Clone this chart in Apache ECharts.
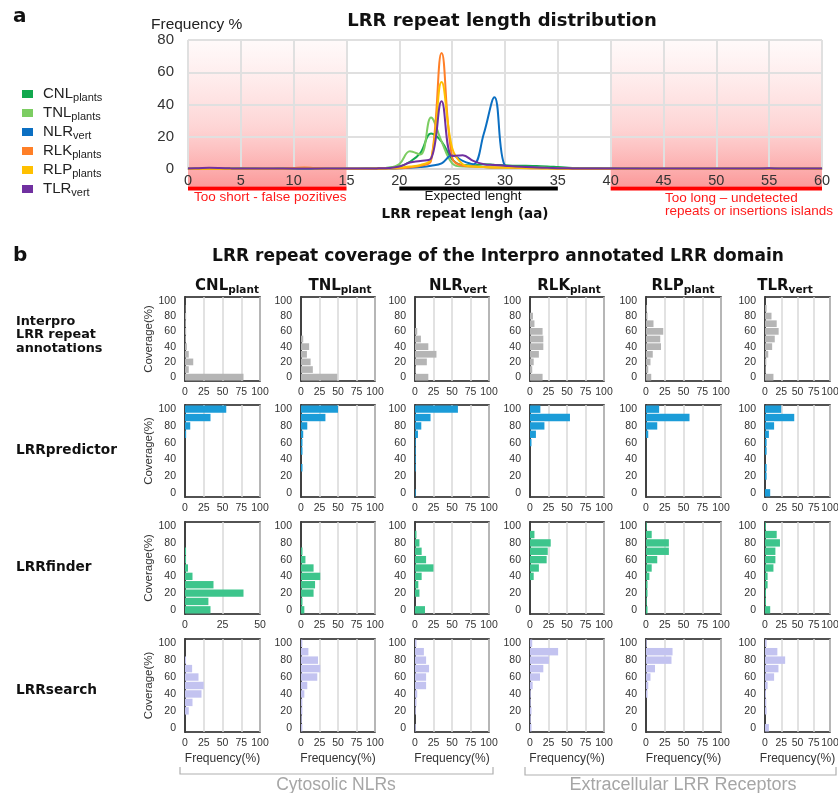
<!DOCTYPE html>
<html><head><meta charset="utf-8">
<script src="https://cdn.jsdelivr.net/npm/echarts@6/dist/echarts.min.js"></script>
<style>html,body{margin:0;padding:0;background:#fff}#c{width:838px;height:793px}</style>
</head><body><div id="c"></div>
<script>
// ---------------- DATA ----------------
// Panel a: repeat length (aa) and frequency (%) per family
const repeatLength = [0,1,2,3,4,5,6,7,8,9,10,11,12,13,14,15,16,17,18,19,20,21,22,23,24,25,26,27,28,29,30,31,32,33,34,35,36,37,38,39,40,41,42,43,44,45,46,47,48,49,50,51,52,53,54,55,56,57,58,59,60];
const cnlCurve = [0.2,0.3,0.3,0.2,0.3,0.4,0.3,0.2,0.2,0.3,0.3,0.3,0.2,0.2,0.2,0.2,0.2,0.3,0.5,0.8,1.5,4.5,10,22,17,6,2.5,2.2,3,2.6,2.3,2,2,1.8,1.6,1.2,0.8,0.6,0.5,0.4,0.3,0.3,0.3,0.2,0.2,0.2,0.2,0.2,0.2,0.2,0.2,0.2,0.2,0.2,0.2,0.2,0.2,0.2,0.2,0.2,0.2];
const tnlCurve = [0.2,0.2,0.2,0.2,0.3,0.3,0.2,0.2,0.2,0.2,0.2,0.2,0.2,0.2,0.2,0.2,0.2,0.2,0.4,0.8,3,11,9,32,17,3.5,1.5,1.5,1.2,1,1,1,1,1,0.8,0.5,0.4,0.3,0.3,0.3,0.2,0.2,0.2,0.2,0.2,0.2,0.2,0.2,0.2,0.2,0.2,0.2,0.2,0.2,0.2,0.2,0.2,0.2,0.2,0.2,0.2];
const nlrCurve = [0.2,0.2,0.2,0.2,0.2,0.2,0.2,0.2,0.2,0.2,0.2,0.2,0.2,0.2,0.2,0.2,0.2,0.2,0.2,0.3,0.5,0.8,1.2,2,3.5,8.5,5,3,22,44.5,2,1,1.2,0.8,0.6,0.5,0.4,0.3,0.3,0.3,0.3,0.2,0.2,0.2,0.2,0.2,0.2,0.2,0.2,0.2,0.2,0.2,0.2,0.2,0.2,0.3,0.2,0.2,0.2,0.2,0.2];
const rlkCurve = [0.2,0.2,0.2,0.2,0.2,0.2,0.2,0.2,0.2,0.2,0.6,1,0.5,0.2,0.2,0.2,0.2,0.2,0.2,0.3,0.5,1,2,5,72,7,2,1.5,1.2,1,1,0.8,0.6,0.5,0.4,0.3,0.2,0.2,0.2,0.2,0.2,0.2,0.2,0.2,0.2,0.2,0.2,0.2,0.2,0.2,0.2,0.2,0.2,0.2,0.2,0.2,0.2,0.2,0.2,0.2,0.2];
const rlpCurve = [0.2,0.2,0.2,0.2,0.2,0.2,0.2,0.2,0.2,0.2,0.3,0.5,0.3,0.2,0.2,0.2,0.2,0.2,0.3,0.5,1,1.5,2.5,6,54,13,3,1.5,1.2,1,0.8,0.7,0.5,0.4,0.3,0.2,0.2,0.2,0.2,0.2,0.2,0.2,0.2,0.2,0.2,0.2,0.2,0.2,0.2,0.2,0.2,0.2,0.2,0.2,0.2,0.2,0.2,0.2,0.2,0.2,0.2];
const tlrCurve = [0.3,0.5,0.7,0.6,0.4,0.3,0.3,0.3,0.3,0.3,0.3,0.3,0.3,0.3,0.3,0.3,0.3,0.3,0.4,0.6,1.5,4,5,6.5,42,8,8.5,5,3,2.5,2,1.5,1.3,1,0.7,0.5,0.4,0.3,0.3,0.3,0.3,0.3,0.3,0.3,0.3,0.3,0.3,0.3,0.3,0.3,0.3,0.3,0.3,0.3,0.3,0.4,0.3,0.3,0.3,0.3,0.3];

const families = ['CNL','TNL','NLR','RLK','RLP','TLR'];
const legendSubs = ['plants','plants','vert','plants','plants','vert'];
const headerSubs = ['plant','plant','vert','plant','plant','vert'];

// Panel b: coverage bins (%) and frequency (%) per bin
const coverageBins = ['0','10','20','30','40','50','60','70','80','90','100'];
const interpro_CNL = [78,5,11,5,2.5,1,1.5,1,1.5,0.5,0];
const interpro_TNL = [49,16,13,8,11,3,0,0,0,0,0];
const interpro_NLR = [18,1,16,29,18,8,3,0,0,0,0];
const interpro_RLK = [17,3,5,12,18,18,17,6,4,0,0];
const interpro_RLP = [7,3,6,9,20,19,23,10,2,1,0];
const interpro_TLR = [13,1,2,5,11,15,21,18,10,2.5,0];

const predictor_CNL = [0,0,0,0,0,0,0,1.5,7,34,55];
const predictor_TNL = [0,0,0,2,0,2,2,3,8.5,33,50];
const predictor_NLR = [1,0,0,1,1,1,1,4,8.5,21,58];
const predictor_RLK = [0,0,0,0,0,0,2,8,19.5,54,14];
const predictor_RLP = [0,0,0,0,0,0,0,3,15,58,17.5];
const predictor_TLR = [8,0,2.5,2.5,0,2.5,2.5,6,14,45,25];

const finder_CNL = [17,15.6,39,19,5,2,0.7,0.7,0,0,0];
const finder_TNL = [4.5,2,17,19,26,17,6,2,0,0,0];
const finder_NLR = [13.5,0,6,4.5,9,25,15,9,6,2,0];
const finder_RLK = [0,0,0,0,5,12,22.5,24,28,6,0];
const finder_RLP = [2,1,2,2,4.5,7.6,15,30.5,30.5,7.6,1];
const finder_TLR = [8,1.5,1.5,4,4,13,16,16,23,18,1.5];

const search_CNL = [0,0,5,10,22,25,18,9.5,1.4,0,0];
const search_TNL = [1.8,1,1.8,1.8,4.5,8.5,22,26,23,10,1.8];
const search_NLR = [1,0,1,2,3,15,15,19,15,12,2];
const search_RLK = [2,1,2,1,1,3.6,13.5,18,25.7,38,3];
const search_RLP = [0,0,0,0,2,3,6,12,34,35.4,1];
const search_TLR = [6,0,2.5,2,1.5,4,14,20.7,31,19,2.5];

const methodNames = ['Interpro\nLRR repeat\nannotations','LRRpredictor','LRRfinder','LRRsearch'];
const methodRows = [
  [interpro_CNL, interpro_TNL, interpro_NLR, interpro_RLK, interpro_RLP, interpro_TLR],
  [predictor_CNL, predictor_TNL, predictor_NLR, predictor_RLK, predictor_RLP, predictor_TLR],
  [finder_CNL, finder_TNL, finder_NLR, finder_RLK, finder_RLP, finder_TLR],
  [search_CNL, search_TNL, search_NLR, search_RLK, search_RLP, search_TLR]
];
const curves = [cnlCurve, tnlCurve, nlrCurve, rlkCurve, rlpCurve, tlrCurve];

// ---------------- STYLE / LAYOUT ----------------
const curveColors = ['#12a84e','#7ccd62','#0b6fc2','#ff7f27','#ffc000','#7030a0'];
const barColors = ['#b5b5b5','#1b9cd8','#3dc58c','#c3c3f0'];
const SANS = 'Liberation Sans, Arial, sans-serif';
const BOLD = 'DejaVu Sans, Verdana, sans-serif';
const colLeft = [185,301,415,530,646,765];
const colW = [75,74,74,74,75,65];
const rowTop = [297,405,522,639];
const rowH = [84,92,92,93];
const headerX = [227,340,458,569,683,785];
const rowLabelY = [335,450,567,690];

const grids = [{left:188, top:40, width:634, height:129, outerBoundsMode:'none', containLabel:false}];
const xAxes = [{
  gridIndex:0, type:'value', min:0, max:60, interval:5,
  axisLine:{show:true, lineStyle:{color:'#d6d6d6', width:2}},
  axisTick:{show:false},
  axisLabel:{fontSize:14.5, color:'#333', margin:4, fontFamily:SANS},
  splitLine:{show:true, lineStyle:{color:'#e0e0e0', width:2}}
}];
const yAxes = [{
  gridIndex:0, type:'value', min:0, max:80, interval:20,
  axisLine:{show:false}, axisTick:{show:false},
  axisLabel:{fontSize:15, color:'#333', margin:14, fontFamily:SANS},
  splitLine:{show:true, lineStyle:{color:'#e0e0e0', width:2}}
}];
const series = [];

families.forEach((f, i) => {
  series.push({
    name:f, type:'line', xAxisIndex:0, yAxisIndex:0,
    data: repeatLength.map((x, k) => [x, curves[i][k]]),
    smooth:0.4, showSymbol:false, symbol:'none',
    lineStyle:{width:2, color:curveColors[i]}, itemStyle:{color:curveColors[i]},
    z:3
  });
});

methodRows.forEach((row, r) => {
  row.forEach((vals, c) => {
    const g = grids.length;
    grids.push({left:colLeft[c], top:rowTop[r], width:colW[c], height:rowH[r],
      show:true, borderColor:'#1a1a1a', borderWidth:1.5, backgroundColor:'transparent',
      outerBoundsMode:'none', containLabel:false});
    const xmax = (r === 2 && c === 0) ? 50 : 100;
    xAxes.push({
      gridIndex:g, type:'value', min:0, max:xmax, interval:25,
      axisLine:{show:false}, axisTick:{show:false},
      axisLabel:{fontSize:10.5, color:'#333', margin:6, fontFamily:SANS},
      splitLine:{show:true, lineStyle:{color:'#d9d9d9', width:1.5}},
      name: r === 3 ? 'Frequency(%)' : '', nameLocation:'middle', nameGap:21,
      nameTextStyle:{fontSize:12, color:'#333', fontFamily:SANS}
    });
    yAxes.push({
      gridIndex:g, type:'category', data:coverageBins,
      axisLine:{show:true, lineStyle:{color:'#1a1a1a', width:1.5}}, axisTick:{show:false},
      axisLabel:{interval:1, fontSize:10.5, color:'#333', margin:9, fontFamily:SANS},
      splitLine:{show:false},
      name: c === 0 ? 'Coverage(%)' : '', nameLocation:'middle', nameRotate:90, nameGap:30,
      nameTextStyle:{fontSize:11.5, color:'#333', fontFamily:'Liberation Sans Narrow, Liberation Sans, sans-serif'}
    });
    series.push({
      type:'bar', xAxisIndex:g, yAxisIndex:g, data:vals,
      barCategoryGap:'12%', itemStyle:{color:barColors[r]}, silent:true
    });
  });
});

const option = {
  animation:false,
  backgroundColor:'#fff',
  textStyle:{fontFamily:SANS},
  grid:grids, xAxis:xAxes, yAxis:yAxes, series:series,
  legend:{
    data:families, orient:'vertical', left:17, top:79.5, itemGap:0,
    itemWidth:11, itemHeight:8, icon:'rect',
    formatter: name => `{a|${name}}{s|${legendSubs[families.indexOf(name)]}}`,
    textStyle:{
      rich:{
        a:{fontSize:15, lineHeight:15, color:'#222', fontFamily:SANS, padding:[0,0,0,5]},
        s:{fontSize:11, lineHeight:7, color:'#222', fontFamily:SANS, padding:[8,0,0,0]}
      }
    }
  }
};

const chart = echarts.init(document.getElementById('c'), null, {width:838, height:793});
chart.setOption(option);

// ---------------- ANNOTATIONS (positioned through the axis scales) ----------------
const P = (x, y) => chart.convertToPixel({gridIndex:0}, [x, y]);
const graphics = [];
const [xa0, yTop] = P(0, 80);
const [, yBase] = P(0, 0);
const barY = yBase + 17.5;
function pinkBand(x1, x2) {
  const a = P(x1, 80)[0], b = P(x2, 80)[0];
  graphics.push({type:'rect', z:-10, silent:true,
    shape:{x:a, y:yTop, width:b - a, height:barY - yTop},
    style:{fill:new echarts.graphic.LinearGradient(0,0,0,1,[
      {offset:0, color:'rgba(255,240,240,0.35)'},
      {offset:0.6, color:'rgba(252,170,170,0.5)'},
      {offset:1, color:'rgba(250,110,110,0.7)'}])}});
  graphics.push({type:'rect', z:10, silent:true,
    shape:{x:a, y:barY, width:b - a, height:4}, style:{fill:'#ff0000'}});
}
pinkBand(0, 15);
pinkBand(40, 60);
{
  const a = P(20, 0)[0], b = P(35, 0)[0];
  graphics.push({type:'rect', z:10, silent:true,
    shape:{x:a, y:barY, width:b - a, height:4}, style:{fill:'#000'}});
}
function txt(text, x, y, size, opts) {
  graphics.push({type:'text', z:20, silent:true, style:Object.assign({
    text, x, y, fontSize:size, fontFamily:SANS, fill:'#111', align:'left', verticalAlign:'middle'
  }, opts || {})});
}
txt('a', 13, 17, 20, {fontFamily:BOLD, fontWeight:'bold'});
txt('LRR repeat length distribution', 502, 21, 18, {fontFamily:BOLD, fontWeight:'bold', align:'center'});
txt('Frequency %', 151, 25, 15.5, {fill:'#222'});
txt('Too short - false pozitives', (P(0,0)[0] + P(15,0)[0]) / 2 + 3, 197, 13.5, {fill:'#ff1a1a', align:'center'});
txt('Expected lenght', 473, 196, 13.5, {fill:'#111', align:'center'});
txt('LRR repeat lengh (aa)', 465, 214, 13.5, {fontFamily:BOLD, fontWeight:'bold', align:'center'});
txt('Too long \u2013 undetected\nrepeats or insertions islands', 665, 205, 13.5, {fill:'#ff1a1a', lineHeight:12.5});

txt('b', 13, 256, 20, {fontFamily:BOLD, fontWeight:'bold'});
txt('LRR repeat coverage of the Interpro annotated LRR domain', 498, 257, 17, {fontFamily:BOLD, fontWeight:'bold', align:'center'});
families.forEach((f, c) => {
  graphics.push({type:'text', z:20, silent:true, style:{
    text:`{a|${f}}{s|${headerSubs[c]}}`, x:headerX[c], y:286, align:'center', verticalAlign:'middle',
    rich:{
      a:{fontSize:15, lineHeight:15, fontWeight:'bold', fontFamily:BOLD, fill:'#111'},
      s:{fontSize:10.5, lineHeight:7, fontWeight:'bold', fontFamily:BOLD, fill:'#111', padding:[8,0,0,0]}
    }}});
});
methodNames.forEach((m, r) => {
  const sz = r === 0 ? 12.8 : 13.7;
  txt(m, 16, rowLabelY[r], sz, {fontFamily:BOLD, fontWeight:'bold', lineHeight:13.6});
});
// group brackets
graphics.push({type:'polyline', z:5, silent:true, shape:{points:[[180,767],[180,774],[493,774],[493,767]]},
  style:{stroke:'#b0b0b0', lineWidth:1.2, fill:null}});
graphics.push({type:'polyline', z:5, silent:true, shape:{points:[[525,767],[525,775],[836,775],[836,767]]},
  style:{stroke:'#b0b0b0', lineWidth:1.2, fill:null}});
txt('Cytosolic NLRs', 336, 785, 17.5, {fill:'#a6a6a6', align:'center'});
txt('Extracellular LRR Receptors', 683, 785, 18, {fill:'#a6a6a6', align:'center'});

chart.setOption({graphic:graphics});
</script>
</body></html>
